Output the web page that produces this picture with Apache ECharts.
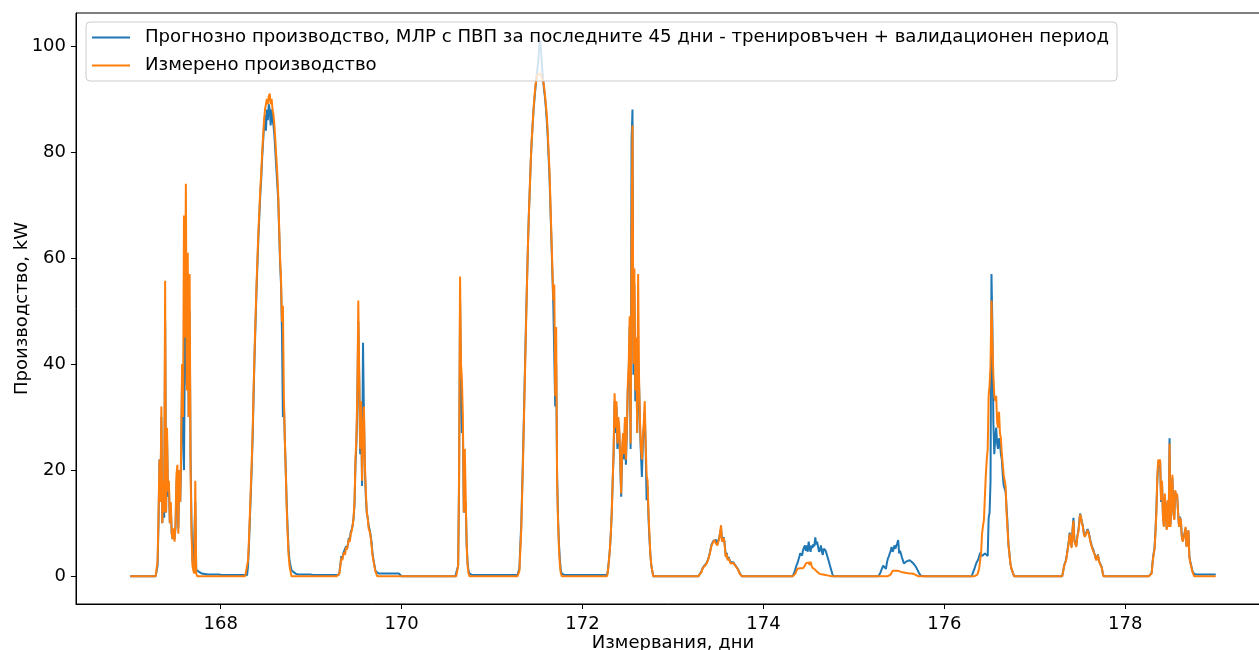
<!DOCTYPE html>
<html>
<head>
<meta charset="utf-8">
<script src="https://cdn.jsdelivr.net/npm/echarts@6/dist/echarts.min.js"></script>
<style>
  html, body { margin: 0; padding: 0; background: #fff; }
  #chart { width: 1259px; height: 650px; }
</style>
</head>
<body>
<div id="chart"></div>
<script>
// Measurement days (day-of-year); each day is sampled every 15 minutes.
const days = [167, 168, 169, 170, 171, 172, 173, 174, 175, 176, 177, 178];
const lastDay = 179;
const slotsPerDay = 96;
// Each daily list starts at slot 24 (06:00); slots not listed are 0.
// A list may run past midnight into the early slots of the following day.
const firstSlot = 24;

const xTicks = [168, 170, 172, 174, 176, 178];
const yTicks = [0, 20, 40, 60, 80, 100];

const seriesNames = [
  'Прогнозно производство, МЛР с ПВП за последните 45 дни - тренировъчен + валидационен период',
  'Измерено производство'
];

// Forecast (MLR), kW
const forecast = [
  // 167
  [0,0,0,0,0,2,10,22,14,30,10,17,11,48,12,26,15,17,10,13,8,7,8,7,9,17,20,9,19,14,22,38,28,20,44,60,36,55,30,50,22,10,3,1.5,1.2,14,1.2,1.0,0.9,0.8,0.7,0.6,0.5,0.5,0.4,0.4,
   0.3,0.3,0.3,0.3,0.3,0.3,0.3,0.3,0.3,0.3,0.3,0.3,0.3,0.3,0.3,0.3,
   0.2,0.2,0.2,0.2,0.2,0.2,0.2,0.2,0.2,0.2,0.2,0.2,0.2,0.2,0.2,0.2,0.2,0.2,0.2,0.2,0.2,0.2,0.2,0.2],
  // 168
  [0.2,0.2,0.2,0.2,0.2,2,6,11,16,21,27,35,42,48,54,59,64,68,72,75,79,82,85,87,84,88,86,89,88,85,88,86,85,83,80,77,74,71,65,59,55,46,30,33,26,20,14,9,5,3,2,1.2,1.0,0.8,0.6,0.5,
   0.4,0.3,0.3,0.3,0.3,0.3,0.3,0.3,0.3,0.3,0.3,0.3,0.3,0.3,0.3,0.3,
   0.2,0.2,0.2,0.2,0.2,0.2,0.2,0.2,0.2,0.2,0.2,0.2,0.2,0.2,0.2,0.2,0.2,0.2,0.2,0.2,0.2,0.2,0.2,0.2],
  // 169
  [0.2,0.2,0.2,0.2,0.2,0.2,0.8,2.2,3.8,3.2,4.3,4.5,4.2,5.6,5.2,6,7.2,6.8,8.3,8.8,9.6,11,13.5,21,25,33,48,37,23,31,17,44,30,20,15,12,11,9.5,8.8,7.8,6.5,4.5,3.2,2.2,1.2,0.8,
   0.5,0.5,0.5,0.5,0.5,0.5,0.5,0.5,0.5,0.5,0.5,0.5,0.5,0.5,0.5,0.5,0.5,0.5,0.5,0.5,0.5,0.5,0.5,0.5,0.5,0.3],
  // 170
  [0,0,0,0,0,0,0,0,0,0,0,0,0,0,0,0,0,0,0,0,0,0,0,0,0,0,0,0,0,0,0,0,0,0,0,0,2,18,52,38,27,28,12,12,14,6,2.5,1,0.5,
   0.2,0.2,0.2,0.2,0.2,0.2,0.2,0.2,0.2,0.2,0.2,0.2,0.2,0.2,0.2,0.2,0.2,0.2,0.2,0.2,0.2,0.2,0.2,
   0.2,0.2,0.2,0.2,0.2,0.2,0.2,0.2,0.2,0.2,0.2,0.2,0.2,0.2,0.2,0.2,0.2,0.2,0.2,0.2,0.2,0.2,0.2,0.2],
  // 171
  [0.2,0.2,0.2,0.2,0.2,1.5,6,10,17,24,32,40,48,55,62,68,73,78,82,85,88,90,92,94,95.5,97,100,101,99,96,94,92,90.5,88.5,86,83,79,75,69,63,57,51,51,32,40,19,11,6,3,1,0.5,
   0.2,0.2,0.2,0.2,0.2,0.2,0.2,0.2,0.2,0.2,0.2,0.2,0.2,0.2,0.2,0.2,0.2,0.2,0.2,0.2,0.2,
   0.2,0.2,0.2,0.2,0.2,0.2,0.2,0.2,0.2,0.2,0.2,0.2,0.2,0.2,0.2,0.2,0.2,0.2,0.2,0.2,0.2,0.2,0.2,0.2],
  // 172
  [0.2,0.2,0.2,1.2,3,5,8,12,18,23,33,27,32,24,29,27,21,15,23,26,22,29,21,27,35,38,47,24,82,88,38,55,33,43,27,37,36,28,23,18.7,25,28,31,24,14.3,17,11,7,4,2,1,0],
  // 173
  [0,0,0,0,0,0.3,0.8,1.3,1.7,1.9,2.1,2.4,2.6,2.8,3.6,4.3,5.2,6,6.3,6.7,6.9,6.5,6.8,6,6.6,7.2,7,9,6.8,7,7.3,5.8,3.8,4.4,3.2,3.6,3.3,2.6,2.8,2.5,2.6,2.4,2.1,1.9,1.8,1.3,0.9,0.5,0.2,0],
  // 174
  [0,0,0,0,0,0,0,0,0.2,0.8,1.4,2.0,2.4,3.0,3.6,4.3,4.3,3.9,4.9,4.6,5.8,4.8,5.8,4.6,6.5,5.2,4.6,5.8,5.3,6.0,5.6,7.3,6.0,6.5,5.5,4.6,5.0,5.8,4.6,4.0,5.2,4.9,4.8,4.2,3.6,3.0,2.4,1.7,1.1,0.5,0],
  // 175
  [0,0,0,0,0.6,1.1,1.5,2.0,1.8,2.1,1.4,2.5,3.3,3.7,4.0,4.8,5.5,4.6,5.0,5.8,5.2,5.5,6.2,6.8,4.3,4.8,4.6,3.5,3.0,2.4,2.6,2.7,2.8,2.7,2.9,3.0,3.0,2.8,2.6,2.4,2.2,2.0,1.7,1.4,1.0,0.6,0.3,0.1,0],
  // 176
  [0,0,0,0,0,0,0.5,1.0,1.4,2.0,2.5,2.8,3.2,3.8,4.4,4.6,3.8,3.6,4.0,4.3,4.6,4.4,3.8,11,12,18,57,47,29,23,26,28,25,24,26,25,23,22,19,17,17,16,13,10,6,4.3,2.5,1.5,1,0.5,0],
  // 177
  [0,0,0,0,0,0,0.8,1.9,2.5,3,4,5.3,6.5,8.2,7,5.5,8.7,11,6.8,7,5.7,7.4,8.3,9.8,11.8,11.5,10.2,9.5,8.2,7.6,8,8.4,8.9,8.4,7.6,6.7,6,5.4,5,4.4,3.9,3.1,3.5,4.1,2.9,2.5,2.1,1.7,0.7,0],
  // 178
  [0,0,0,0,0.6,2.7,4.2,5.2,8.3,12.5,18,21.5,20.6,21.5,14,17.5,11.5,9.5,15,12.5,9,14,9.5,26,9.8,14,18.5,12.2,10.8,16,14.8,15.2,12.2,9.6,11.2,10.4,7.6,6.7,6.4,8.2,9,5.7,7,8.5,3.8,2.7,2,1.2,0.6,0.3,
   0.3,0.3,0.3,0.3,0.3,0.3,0.3,0.3,0.3,0.3,0.3,0.3,0.3,0.3,0.3,0.3,0.3,0.3,0.3,0.3,0.3,0.3,0.3]
];

// Measured production, kW
const measured = [
  // 167
  [0,0,0,0,0,3,12,22,14,32,10,18,12,55.7,12,28,16,18,10,14,8,7,9,6.5,10,19,21,8,20,14,24,40,30,68,45,74,35,61,30,57,20,8,2,1,0.5,18,0.5,0],
  // 168
  [0,0,0,0,0,3,7,12,17,22,28,36,43,49,55,60,65,69,73,76,80,83,86,88,88,90,89,90.5,91,89,90,88,87,85,82,79,76,72,66,60,56,48,51,34,26,20,13,8,4,2,1,0],
  // 169
  [0,0,0,0,0,0,0.5,2,3.5,3,4,4.5,4,5.5,5,6,7,6.5,8,8.5,9.5,11,14,22,26,35,52,38,24,33,18,27,32,21,16,12,11,9,8.5,7.5,6,4,3,2,1,0.5,0],
  // 170
  [0,0,0,0,0,0,0,0,0,0,0,0,0,0,0,0,0,0,0,0,0,0,0,0,0,0,0,0,0,0,0,0,0,0,0,0,2,20,56.5,40,37,30,12,24,15,6,2,0.5,0],
  // 171
  [0,0,0,0,0,1,5,9,16,23,31,39,47,55,62,68,73,78,82,85,88,90.5,92.5,93.5,94.5,94.8,94.8,94.8,94.8,94.5,93.5,92.5,91,89,87,84,80,76,70,64,58,52,55,34,47,18,10,5,2,0.5,0],
  // 172
  [0,0,0,1,3,5,8,12,18,24,34.5,28,33,25,30,28,22,15.6,24,27,23,30,22,28,36,40,49,25,62,85,40,58,35,45,27,57,37,29,24,22,26,29,33,25,19,18,12,8,4,2,1,0],
  // 173
  [0,0,0,0,0,0.3,0.7,1.2,1.6,1.8,2,2.3,2.5,2.6,3.5,4.2,5,5.8,6.2,6.5,6.8,6.3,6.6,5.8,6.5,7,6.8,9.6,6.5,6.8,7.2,5.5,3.6,4.2,3,3.4,3.2,2.4,2.6,2.4,2.5,2.3,2.0,1.8,1.8,1.2,0.8,0.4,0.2,0],
  // 174
  [0,0,0,0,0,0,0,0,0,0.1,0.5,1.0,1.4,1.5,1.6,1.5,1.7,1.6,1.5,1.7,2.0,2.4,2.7,2.2,2.6,2.1,2.7,2.0,1.6,1.8,1.4,1.2,1.0,0.8,0.6,0.5,0.4,0.3,0.3,0.3,0.2,0.2,0.2,0.2,0.2,0.1,0],
  // 175
  [0,0,0,0,0,0,0,0,0,0,0,0,0,0,0,0.3,0.6,1.0,1.1,1.1,1.0,1.1,1.0,1.0,0.9,0.9,0.8,0.8,0.7,0.7,0.7,0.6,0.6,0.6,0.6,0.5,0.5,0.5,0.5,0.5,0.4,0.3,0.2,0.1,0],
  // 176
  [0,0,0,0,0,0,0,0,0,0,0,0.3,0.8,1.5,3.0,4.5,8,9.5,10.6,15,19,22,24,34,36,40,52,44,38,34,33,34,29,28,31,27,26,23,21,19,18,17,12,9,6,4.3,2.5,1.5,1,0.5,0],
  // 177
  [0,0,0,0,0,0,0.8,1.8,2.4,2.8,3.9,5.2,6.3,8,6.8,5.3,8.5,10.5,6.5,6.8,5.5,7.2,8.1,9.5,11.6,11.2,10,9.3,8,7.4,7.8,8.2,8.7,8.2,7.4,6.5,5.8,5.2,4.9,4.3,3.8,3.0,3.4,4.0,2.8,2.4,2.0,1.6,0.6,0],
  // 178
  [0,0,0,0,0.5,2.5,4,5,8,12,18.7,22,21,22,14.3,18,11,9.3,15.6,12,8.7,14.3,9.3,25,9.3,14.3,19.1,12,10.6,16.2,15,15.6,12,9.3,11,10.6,7.4,6.5,6.2,8,9.3,5.5,6.8,8.7,3.6,2.5,1.8,1,0.5,0]
];

// Lay the daily lists onto one continuous 15-minute timeline from day 167 to day 179.
function toTimeline(perDay) {
  const total = (lastDay - days[0]) * slotsPerDay + 1;
  const values = new Array(total).fill(0);
  perDay.forEach((list, d) => {
    list.forEach((v, j) => {
      const k = d * slotsPerDay + firstSlot + j;
      if (k < total) values[k] = v;
    });
  });
  return values.map((v, k) => [days[0] + k / slotsPerDay, v]);
}

const font = 'DejaVu Sans';
const fs = 18;

const chart = echarts.init(document.getElementById('chart'), null, { renderer: 'canvas' });
chart.setOption({
  animation: false,
  backgroundColor: '#ffffff',
  color: ['#1f77b4', '#ff7f0e'],
  textStyle: { fontFamily: font },
  grid: {
    left: 76, right: -11, top: 13, bottom: 46,
    containLabel: false, outerBoundsMode: 'none',
    show: true, borderColor: '#000', borderWidth: 1, backgroundColor: 'transparent'
  },
  legend: {
    left: 86, top: 22,
    orient: 'vertical',
    icon: 'rect',
    itemWidth: 38, itemHeight: 2,
    itemGap: 7,
    padding: [5, 8, 5, 6],
    backgroundColor: 'rgba(255,255,255,0.8)',
    borderColor: '#cccccc', borderWidth: 1, borderRadius: 4,
    textStyle: { fontFamily: font, fontSize: 18.13, color: '#000', lineHeight: 21, padding: [0, 0, 0, 10] },
    data: seriesNames
  },
  xAxis: {
    type: 'value',
    min: 166.4, max: 179.6,
    name: 'Измервания, дни',
    nameLocation: 'middle', nameGap: 30, nameMoveOverlap: false,
    nameTextStyle: { fontFamily: font, fontSize: fs, color: '#000' },
    axisLine: { show: true, onZero: false, lineStyle: { color: '#000', width: 1 } },
    axisTick: { show: true, length: 5, lineStyle: { color: '#000' }, customValues: xTicks },
    axisLabel: { fontFamily: font, fontSize: fs, color: '#000', margin: 11, customValues: xTicks,
                 formatter: v => String(Math.round(v)) },
    splitLine: { show: false }
  },
  yAxis: {
    type: 'value',
    min: -5.25, max: 106.2,
    name: 'Производство, kW',
    nameLocation: 'middle', nameGap: 45, nameRotate: 90, nameMoveOverlap: false,
    nameTextStyle: { fontFamily: font, fontSize: fs, color: '#000' },
    axisLine: { show: true, onZero: false, lineStyle: { color: '#000', width: 1 } },
    axisTick: { show: true, length: 5, lineStyle: { color: '#000' }, customValues: yTicks },
    axisLabel: { fontFamily: font, fontSize: fs, color: '#000', margin: 10, customValues: yTicks },
    splitLine: { show: false }
  },
  series: [
    {
      name: seriesNames[0], type: 'line', data: toTimeline(forecast),
      showSymbol: false, symbol: 'none', sampling: null,
      lineStyle: { width: 2, color: '#1f77b4' }, z: 2
    },
    {
      name: seriesNames[1], type: 'line', data: toTimeline(measured),
      showSymbol: false, symbol: 'none', sampling: null,
      lineStyle: { width: 2, color: '#ff7f0e' }, z: 3
    }
  ]
});
</script>
</body>
</html>
